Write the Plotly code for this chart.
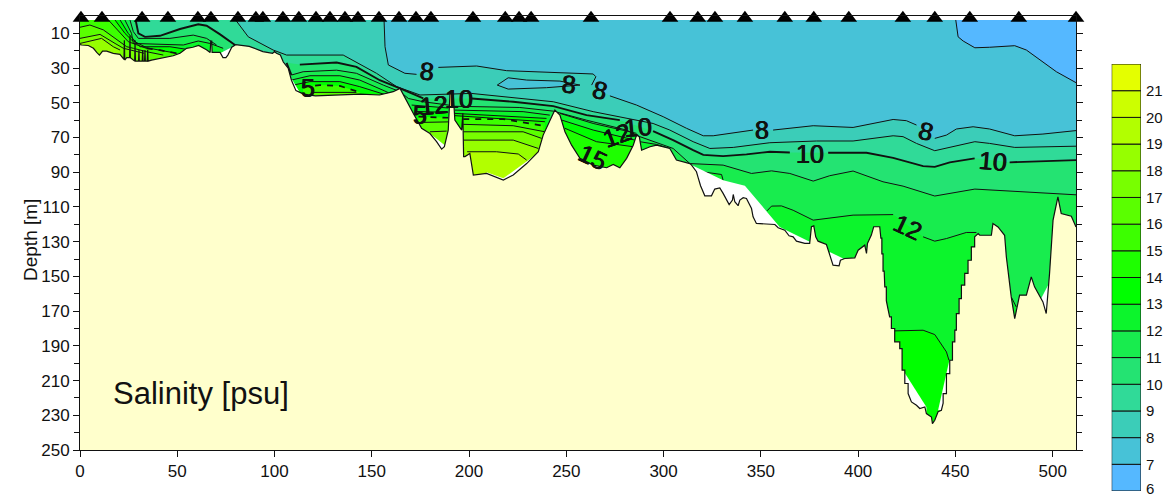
import plotly.graph_objects as go

W, H = 1169, 497
LEVELS = [6, 7, 8, 9, 10, 11, 12, 13, 14, 15, 16, 17, 18, 19, 20, 21]
COLORS = ["#55B8FF", "#47C2D7", "#3BCDB8", "#30DA98", "#24E372", "#18EC4E", "#0CF52C", "#00FF00",
          "#1EFF00", "#3CFF00", "#5AFF00", "#78FF00", "#96FF00", "#B2FF00", "#CCFF00", "#E4FF00"]
SURFACE = 2.3
STATIONS = [0.5, 11.3, 31.9, 45.2, 60.6, 67.3, 81.2, 90.4, 94, 104.3, 112.5, 121.3, 128.5, 136.2, 142.9, 153.7, 164,
            172.7, 180.4, 202, 218.6, 225.7, 231.9, 262.7, 303.3, 317.6, 326.4, 341.8, 362.3, 377.2, 395.2, 423,
            439.4, 457.4, 482.6, 512]

BOTTOM = [
    (0, 16.5), (0.9, 16.7), (4.3, 17), (6.9, 18.6), (8.6, 21), (10, 22.5), (11.6, 20.2), (13.7, 20.2), (17.1, 21.5), (20.5, 22.1),
    (22.6, 25), (22.8, 14), (23, 25.4), (24, 24), (25.5, 24), (25.7, 11.4), (25.9, 24), (27, 25), (28.1, 26), (28.3, 14), (28.5, 26),
    (30.1, 26), (30.3, 19.6), (30.5, 26), (32, 26), (32.2, 19.6), (32.4, 26), (33.2, 26), (33.4, 19.6), (33.6, 26),
    (34.6, 26), (34.8, 19.6), (35, 26), (36.8, 25.4), (41.1, 24.4), (47.9, 22.9), (51.4, 21.5), (54.8, 18.6), (58, 18), (61, 17),
    (65, 19.5), (66.9, 21), (67.2, 14.5), (67.7, 14.5), (67.9, 21), (72, 21), (73.5, 24), (75, 24), (76, 22.5), (78, 18), (80, 16.5),
    (87, 17.5), (94, 20.5), (99, 21.5), (100, 20.5), (101, 21.5), (103, 22.5), (104.5, 26.5), (107, 30), (108.7, 37), (111, 43),
    (115, 45), (121, 46), (132, 45.5), (144, 45), (154, 45.5), (161, 43.6), (164.5, 41.7), (168, 49.4), (171.3, 56), (175.6, 64.7),
    (179.9, 67.7), (183.3, 72.4), (185.9, 76.7), (187.3, 75.3), (189.3, 65.7), (190.2, 44.6), (191.9, 45.5), (192.7, 60), (194.5, 62.8),
    (196.2, 65.7), (196.8, 56), (197.2, 81), (197.9, 81), (200.4, 79.2), (202.2, 91.6), (209, 90.7), (217.6, 94.5), (222.7, 91.6),
    (229.6, 85), (235.6, 78.2), (238.1, 68.6), (241.6, 60), (244.1, 54.2), (246.7, 57.1), (249.3, 66.7), (252.7, 74.4), (257, 82),
    (263.8, 85.9), (270.7, 87.4), (274.1, 85.5), (277.5, 87.4), (281, 82), (284.4, 74.4), (286.1, 68.6), (287.5, 69.5), (288.7, 77.3),
    (293, 75.3), (296.4, 74.4), (303.2, 76.3), (306.6, 83), (313.5, 85), (314.4, 85.9), (316.9, 89.7), (317.8, 93.2), (319, 97.8),
    (321.2, 103.6), (324.6, 103.6), (326.3, 99.7), (328.9, 99), (330.6, 102.2), (332.7, 106), (333.7, 108.6), (335.4, 106), (335.8, 102.8),
    (336.6, 107), (338.3, 109.3), (339.2, 106), (340.9, 104.7), (342.6, 105.1), (345.2, 110.9), (346, 115.7), (347.7, 119.5), (357.2, 120.1),
    (358.9, 122), (362.3, 123.4), (364.5, 126.6), (366.6, 127.2), (368.3, 129.7), (372.6, 131), (375.1, 131), (376, 121.4), (377.2, 120.9),
    (378.2, 127.2), (379.4, 129.7), (383.7, 131.6), (385.4, 137.8), (387.1, 143.5), (390.2, 143.9), (390.9, 140.7), (393.1, 139.7),
    (398.3, 139.3), (400, 134.9), (403.4, 132), (404.3, 136.8), (404.8, 131), (406.8, 126.2), (408, 121.4), (411.1, 121.4),
    (411.7, 128), (412.2, 128), (412.2, 137), (412.8, 137), (412.8, 147), (413.4, 147), (413.7, 156), (414.5, 156), (414.5, 164),
    (415.4, 169), (416.2, 173.3), (417.1, 173.3), (417.1, 180), (418.8, 180), (418.8, 187.7), (421.4, 187.7), (421.4, 191.6),
    (422.6, 191.6), (422.6, 204), (424, 204), (424, 211.7), (425.7, 211.7), (425.7, 217.5), (427.4, 222.3), (430, 224.2), (431.7, 226.1),
    (434.3, 225.2), (435.1, 229), (437.7, 231), (438.2, 234.8), (439.4, 232.9), (441.1, 228), (442.8, 227.1), (443.7, 223), (443.7, 217.5),
    (445.4, 217.5), (445.4, 206), (447.1, 206), (447.1, 198.3), (448.5, 198.3), (448.5, 187.7), (449.7, 187.7), (449.7, 181), (450.5, 181),
    (450.5, 171.4), (451.9, 171.4), (451.9, 162.8), (453.1, 162.8), (453.1, 155), (454.8, 155), (454.8, 148.3), (456.5, 148.3),
    (456.5, 140.7), (458.2, 140.7), (458.2, 133), (459.9, 133), (459.9, 127.2), (461.7, 125.3), (462.5, 126.3), (468.5, 126.3), (469.3, 119.5),
    (471.9, 121.5), (475.3, 126.3), (476.2, 138.8), (478.7, 161.8), (480.5, 174.3), (483, 160.8), (486.5, 160.8), (489, 150.3), (490.7, 156),
    (495, 164.7), (496.7, 171.4), (498.4, 148.4), (500.2, 117.6), (502.7, 104.2), (504.4, 113.8), (509.6, 115.3), (512, 121.5),
]
BOTTOM_X = [p[0] for p in BOTTOM]
BOTTOM_D = [p[1] for p in BOTTOM]

S7_X = [450.2, 451.4, 454, 460, 467.6, 480.5, 486.5, 495, 501.9, 512]
S7_D = [2.3, 12, 14.4, 18.3, 18, 17.1, 19.6, 26.3, 32.1, 38.4]

S8_X = [156.3, 156.8, 158.5, 167, 173, None, 184.2, 203.9, 219.3, 263.8, 265.2, 263, None, 272.4, 286.1, 299.8, 311.8,
        320.4, 325.5, 346, None, 356.3, 376.9, 397.4, 418, 424.8, 430, None, 439.4, 445.4, 450.5, 459.1, 467.6, 480.5, 495, 512]
S8_D = [2.3, 17.7, 28.2, 33, 33.6, None, 29.6, 28.8, 31.5, 33.4, 35, 39.8, None, 46, 51.3, 58, 64.7,
        69, 69, 65.7, None, 65.7, 63.2, 64.2, 59.6, 60.3, 62.8, None, 70.5, 68.6, 65.1, 63.8, 65.1, 69, 68, 66]
ISLAND_X = [214.5, 220.1, 229.6, 246.7, 257, 239.8, 220.1, 214.5]
ISLAND_D = [39.8, 35.6, 36.9, 37.5, 39.8, 41.3, 42.1, 39.8]

S9_X = [80, 86.5, 99.3, 106.2, 135.3, 152.4, 162.8, 174.8, 201.3, 243.3, 263.8, 277.5, 286.1, 294.6, 303.2, 315.2, 323.8,
        335.8, 354.6, 378.6, 397.4, 418, 423.1, 430, 439.4, 448.8, 460, 467.6, 480.5, 512]
S9_D = [2.3, 12, 19.6, 22.5, 22.5, 33, 40.7, 45.5, 44.6, 49.4, 55.1, 58, 60, 61.9, 65.7, 72.4, 76.3,
        75.7, 73, 72, 72, 69, 69.5, 73.4, 77.6, 75.3, 72.4, 73.4, 75.7, 75]

S10A_X = [28.6, 30, 33.4, 41.1, 51.4, 60.8, 65.1, 72, 79.7]
S10A_D = [2.3, 10, 12, 11.4, 7.5, 4.8, 5.6, 10.6, 16.7]
S10B_X = [108.7, 106.2, None, 113, 131.9, 142.1, 154.1, 164.5, 176.5, None, 201.3, 222.7, 243.3, 260.4, 277.5, None, 294.6, 304.9,
          315.2, 320.4, 330.6, 342.6, 354.6, 364.9, None, 384.6, 404.3, 418, 433.4, 439.4, 447.1, 459.9, None, 477.9, 512]
S10B_D = [34, 27, None, 28, 26.8, 29.3, 37, 41.7, 47.5, None, 47.5, 49.4, 51.9, 57.1, 60, None, 66.3, 71.5,
          77.3, 80, 80.7, 79.7, 78.2, 78.6, None, 78.8, 78.8, 81.7, 86.5, 86.9, 84.3, 82, None, 84.3, 83]

S11A_X = [25.7, 27.4, 30, 46.2, 58.2, 65.1, 70.2]
S11A_D = [2.3, 9, 12.9, 12.9, 11, 12.9, 16.7]
S11B_X = [108.7, 114.7, 131.9, 142.1, 155.9, 164.5, 168.8, 176.5, 189.3, 192.7, 226.1, 243.3, 260.4, 280.9, 287.8, 304.9, 313.5,
          330.6, 345.2, 355.5, 364.9, 376.9, 385.4, 397.4, 412.8, 423.1, 439.4, 460, 512]
S11B_D = [34, 32.1, 31.2, 33, 39.8, 43.6, 47.5, 49.4, 51.3, 52, 52.7, 54.8, 60, 65.7, 69.5, 76.3, 85,
          85.9, 90.7, 89.2, 90.7, 95.1, 92, 89.3, 95.5, 98, 103.7, 99.7, 103]

S12A_X = [23.1, 26.5, 27.4, 53.1, 60.8, 66.8, 73.6]
S12A_D = [2.3, 10, 15.8, 16.7, 14.4, 15.8, 18.6]
S12B_X = [108.7, 118.2, 133.6, 143.8, 156.7, 160]
S12B_D = [36.9, 34.4, 34.4, 36.9, 43.2, 45]
S12C_X = [170.5, 189.3]
S12C_D = [51.3, 53]
S12D_X = [192.7, 227.8, 241.5]
S12D_D = [54.2, 55.1, 57.1]
S12E_X = [246.7, 263.8, 286.1]
S12E_D = [56.1, 61.9, 67.6]
S12F_X = [287.8, 296.4, 303.2]
S12F_D = [72.4, 74, 76.3]
S12G_X = [320.4, 322.9, 329.8, 330.6]
S12G_D = [89.8, 90.3, 91.3, 94.6]
S12H_X = [353.2, 355.5, 360.6, 366.6, 376.9, 397.4, 418, None, 433.4, 439.4, 445.4, 455.6, 460.8]
S12H_D = [112.2, 109.5, 109.4, 111.9, 117.6, 114.7, 114.4, None, 127.2, 129.7, 128.2, 124.7, 124.7]
S12I_X = [478.7, 481.3]
S12I_D = [161.8, 167.6]

S13A_X = [20.6, 24.8, 30.8, 46.2, 54.8]
S13A_D = [2.3, 10, 17.7, 17.7, 19.2]
S13B_X = [109.6, 118.2, 133.6, 143.8, 157.5]
S13B_D = [39.8, 37.8, 37.8, 40.7, 45.5]
S13C_X = [173, 189]
S13C_D = [55, 55.5]
S13D_X = [192.7, 239.8]
S13D_D = [56.1, 59]
S13E_X = [247.5, 263.8, 285.2]
S13E_D = [59.9, 65.7, 71.5]
S13F_X = [418, 433.4, 439.4, 445.4, 446.7]
S13F_D = [181.4, 181, 183.5, 193.5, 198.3]

S14A_X = [18, 23.1, 26.5, 34.3, 49.7]
S14A_D = [2.3, 10, 13.8, 18.3, 21.5]
S14D_X = [192.7, 239]
S14D_D = [57.4, 60.9]
S14E_X = [249.3, 265.5, 284.4]
S14E_D = [64.7, 72.4, 75.3]

S15A_X = [14.6, 20.6, 24.8, 34.3]
S15A_D = [2.3, 10, 14.8, 18.7]
S15A2_X = [34.3, 41.1, 49.7, 55]
S15A2_D = [18.7, 19.7, 21.5, 23]
S15B_X = [114.7, 123.3, 133.6, 140.5, 144]
S15B_D = [40.7, 39.8, 40.3, 42.7, 44]
S15C_X = [174, 189.3]
S15C_D = [58, 58.6]
S15D_X = [197, 217.6, 238.1]
S15D_D = [59.4, 59.4, 63.2]

S16A_X = [0, 5.1, 12, 19.7, 24, 27.4, 34.3, 42.8]
S16A_D = [6.5, 5.2, 8, 14.4, 17.7, 18.6, 20.6, 22.5]
S16B_X = [119.9, 142.1]
S16B_D = [44, 44]
S16C_X = [175.6, 189.3]
S16C_D = [61.3, 61]
S16D_X = [197, 222.7, 239]
S16D_D = [62.4, 63.2, 66.7]

S17A_X = [0, 10.3, 18, 22.3, 33]
S17A_D = [12.9, 10.6, 15.8, 18.6, 21.5]
S17C_X = [179.9, 188.5]
S17C_D = [66.7, 66.3]
S17D_X = [197, 227.8, 237.3]
S17D_D = [66.7, 66.7, 70.5]

S18A_X = [0, 11.1, 17.1, 20.6]
S18A_D = [15.8, 12.9, 17.7, 19.6]
S18D_X = [197, 222.7, 235.6]
S18D_D = [71.5, 71.5, 76.3]

S19D_X = [199, 214.1, 225.3, 229.6]
S19D_D = [78.2, 78.2, 79.5, 83]

WHITE_A_X = [314.4, 330.6, 341.8, 359.7, 375.1, 375.1, 314.4]
WHITE_A_D = [85.9, 94.6, 97.8, 121.5, 130.1, 140, 140]
WHITE_B_X = [385.4, 392.3, 392.3, 385.4]
WHITE_B_D = [135.9, 139.7, 150, 150]
WHITE_C_X = [423.1, 435.1, 435.1, 423.1]
WHITE_C_D = [204, 225.2, 240, 240]
WHITE_D_X = [446.7, 441.1, 455, 455]
WHITE_D_D = [199.3, 227.1, 227, 199]
WHITE_E_X = [493.6, 498.1, 498.1, 493.6]
WHITE_E_D = [163.7, 154.1, 180, 180]
WHITE_F_X = [72, 78, 78, 72]
WHITE_F_D = [21.5, 18, 30, 30]
WHITE_G_X = [108.7, 113, 113, 108.7]
WHITE_G_D = [36, 44, 50, 50]
WHITE_H_X = [178, 187.5, 187.5, 178]
WHITE_H_D = [66, 74.5, 80, 80]
WHITE_I_X = [209, 217.6, 230.6, 236, 236, 209]
WHITE_I_D = [90, 93.5, 83, 78, 100, 100]

LABEL_TEXT = ["8", "8", "8", "12", "10", "5", "5", "12", "10", "15", "8", "10", "8", "10", "12"]
LABEL_X = [178.3, 251.3, 267.2, 181.9, 194.8, 174.7, 117.2, 276, 286.7, 263.6, 350.5, 375.1, 434.7, 469.2, 425.5]
LABEL_D = [31.7, 39.2, 42.7, 51.3, 47.8, 57, 41.5, 68.6, 64, 81.3, 65.7, 79.5, 66.3, 83.6, 121.6]
LABEL_ANGLE = [5, 5, 15, -5, 0, 0, 0, -20, -5, 25, 0, 0, 15, 5, 25]

X_TICKS = [0, 50, 100, 150, 200, 250, 300, 350, 400, 450, 500]
Y_TICKS = list(range(10, 251, 20))

BANDS = [
    (8, S8_X, S8_D, True), (9, S9_X, S9_D, True),
    (10, S10A_X, S10A_D, True), (10, S10B_X, S10B_D, False),
    (11, S11A_X, S11A_D, True), (11, S11B_X, S11B_D, False),
    (12, S12A_X, S12A_D, True), (12, S12B_X, S12B_D, False), (12, S12C_X, S12C_D, False),
    (12, S12D_X, S12D_D, False), (12, S12E_X, S12E_D, False), (12, S12F_X, S12F_D, False),
    (12, S12G_X, S12G_D, False), (12, S12H_X, S12H_D, False), (12, S12I_X, S12I_D, False),
    (13, S13A_X, S13A_D, True), (13, S13B_X, S13B_D, False), (13, S13C_X, S13C_D, False),
    (13, S13D_X, S13D_D, False), (13, S13E_X, S13E_D, False), (13, S13F_X, S13F_D, False),
    (14, S14A_X, S14A_D, True), (14, S14D_X, S14D_D, False), (14, S14E_X, S14E_D, False),
    (15, S15A_X + S15A2_X[1:], S15A_D + S15A2_D[1:], True), (15, S15B_X, S15B_D, False),
    (15, S15C_X, S15C_D, False), (15, S15D_X, S15D_D, False),
    (16, S16A_X, S16A_D, False), (16, S16B_X, S16B_D, False), (16, S16C_X, S16C_D, False), (16, S16D_X, S16D_D, False),
    (17, S17A_X, S17A_D, False), (17, S17C_X, S17C_D, False), (17, S17D_X, S17D_D, False),
    (18, S18A_X, S18A_D, False), (18, S18D_X, S18D_D, False),
    (19, S19D_X, S19D_D, False),
]
THIN, BOLD, DASHW = 1.0, 1.9, 1.7
DASH = "6px,6px"
LINES = [
    (S7_X, S7_D, THIN, "solid"), (S8_X, S8_D, THIN, "solid"), (ISLAND_X, ISLAND_D, THIN, "solid"), (S9_X, S9_D, THIN, "solid"),
    (S10A_X, S10A_D, BOLD, "solid"), (S10B_X, S10B_D, BOLD, "solid"),
    (S11A_X, S11A_D, THIN, "solid"), (S11B_X, S11B_D, THIN, "solid"),
    (S12A_X, S12A_D, THIN, "solid"), (S12B_X, S12B_D, THIN, "solid"), (S12C_X, S12C_D, THIN, "solid"),
    (S12D_X, S12D_D, THIN, "solid"), (S12E_X, S12E_D, THIN, "solid"), (S12F_X, S12F_D, THIN, "solid"),
    (S12G_X, S12G_D, THIN, "solid"), (S12H_X, S12H_D, THIN, "solid"), (S12I_X, S12I_D, THIN, "solid"),
    (S13A_X, S13A_D, THIN, "solid"), (S13B_X, S13B_D, THIN, "solid"), (S13C_X, S13C_D, THIN, "solid"),
    (S13D_X, S13D_D, THIN, "solid"), (S13E_X, S13E_D, THIN, "solid"), (S13F_X, S13F_D, THIN, "solid"),
    (S14A_X, S14A_D, THIN, "solid"), (S14D_X, S14D_D, THIN, "solid"), (S14E_X, S14E_D, THIN, "solid"),
    (S15A_X, S15A_D, THIN, "solid"), (S15A2_X, S15A2_D, DASHW, DASH), (S15B_X, S15B_D, DASHW, DASH),
    (S15C_X, S15C_D, DASHW, DASH), (S15D_X, S15D_D, DASHW, DASH),
    (S16A_X, S16A_D, THIN, "solid"), (S16B_X, S16B_D, THIN, "solid"), (S16C_X, S16C_D, THIN, "solid"), (S16D_X, S16D_D, THIN, "solid"),
    (S17A_X, S17A_D, THIN, "solid"), (S17C_X, S17C_D, THIN, "solid"), (S17D_X, S17D_D, THIN, "solid"),
    (S18A_X, S18A_D, THIN, "solid"), (S18D_X, S18D_D, THIN, "solid"), (S19D_X, S19D_D, THIN, "solid"),
]
WHITES = [(WHITE_A_X, WHITE_A_D), (WHITE_B_X, WHITE_B_D), (WHITE_C_X, WHITE_C_D), (WHITE_D_X, WHITE_D_D),
          (WHITE_E_X, WHITE_E_D), (WHITE_F_X, WHITE_F_D), (WHITE_G_X, WHITE_G_D), (WHITE_H_X, WHITE_H_D), (WHITE_I_X, WHITE_I_D)]

FONT = "Liberation Sans, Arial, sans-serif"
NARROW = "Liberation Sans Narrow, Liberation Sans, Arial, sans-serif"
LAND = "#FFFFCC"
BOX_DEPTH = 250
INK = "#111111"


def col(level):
    return COLORS[LEVELS.index(level)]


def poly(x, y, color):
    return go.Scatter(x=x, y=y, mode="lines", fill="toself", fillcolor=color, line=dict(width=0, color=color),
                      hoverinfo="skip", showlegend=False)


def clean(seq):
    return [v for v in seq if v is not None]


fig = go.Figure()
fig.add_trace(poly([0, 512, 512, 0], [SURFACE, SURFACE, BOX_DEPTH, BOX_DEPTH], col(7)))
fig.add_trace(poly(S7_X + [512], S7_D + [SURFACE], col(6)))
for lev, xs, ds, to_left in BANDS:
    px, pd = clean(xs), clean(ds)
    left = 0 if to_left else px[0]
    px2 = px + [px[-1], left] + ([left] if to_left else [])
    pd2 = pd + [BOX_DEPTH, BOX_DEPTH] + ([SURFACE] if to_left else [])
    fig.add_trace(poly(px2, pd2, col(lev)))
    if lev == 8:
        fig.add_trace(poly(ISLAND_X, ISLAND_D, col(7)))
for xs, ds, w, dash in LINES:
    fig.add_trace(go.Scatter(x=xs, y=ds, mode="lines", line=dict(color=INK, width=w, dash=dash),
                             hoverinfo="skip", showlegend=False))
for xs, ds in WHITES:
    fig.add_trace(poly(xs, ds, "#FFFFFF"))
fig.add_trace(poly(BOTTOM_X + [512, 0], BOTTOM_D + [BOX_DEPTH, BOX_DEPTH], LAND))
fig.add_trace(go.Scatter(x=BOTTOM_X, y=BOTTOM_D, mode="lines", line=dict(color=INK, width=1.2),
                         hoverinfo="skip", showlegend=False))
fig.add_trace(go.Scatter(x=STATIONS, y=[1.2] * len(STATIONS), mode="markers", cliponaxis=False,
                         marker=dict(symbol="triangle-up", size=14.5, color="black"), hoverinfo="skip", showlegend=False))

fig.add_trace(go.Bar(x=[0] * len(LEVELS), y=[1] * len(LEVELS), base=LEVELS, width=1, xaxis="x2", yaxis="y2",
                     marker=dict(color=COLORS, line=dict(color=INK, width=1)), hoverinfo="skip", showlegend=False))

for t, x, d, a in zip(LABEL_TEXT, LABEL_X, LABEL_D, LABEL_ANGLE):
    fig.add_annotation(x=x, y=d, text=t, textangle=a, showarrow=False,
                       font=dict(family=NARROW, size=25, color=INK, shadow="0.5px 0 0 #111111, -0.5px 0 0 #111111"))
fig.add_annotation(x=62.2, y=217.3, text="Salinity [psu]", showarrow=False, font=dict(family=FONT, size=31, color=INK))
fig.add_annotation(xref="paper", yref="paper", x=18 / W, y=(H - 240.5) / H, text="Depth [m]", textangle=-90, showarrow=False,
                   font=dict(family=FONT, size=19, color=INK))
fig.add_annotation(xref="paper", yref="paper", x=1146 / W, y=(H - 496.5) / H, xanchor="left", yanchor="bottom", text=str(LEVELS[0]),
                   showarrow=False, borderpad=0, borderwidth=0, font=dict(family=FONT, size=15, color=INK))

fig.update_layout(
    width=W, height=H, autosize=False, margin=dict(l=0, r=0, t=0, b=0, autoexpand=False), paper_bgcolor="white", plot_bgcolor="white",
    barmode="overlay", showlegend=False, font=dict(family=FONT, size=17, color=INK),
    xaxis=dict(domain=[80 / W, 1076 / W], range=[0, 512], tickvals=X_TICKS, ticks="outside", ticklen=6, tickcolor=INK,
               showgrid=False, zeroline=False, showline=True, linecolor=INK, linewidth=1, mirror=True, anchor="y",
               tickfont=dict(size=17), automargin=False),
    yaxis=dict(domain=[(H - 450) / H, (H - 16) / H], range=[250, 0], tickvals=Y_TICKS, ticks="outside", ticklen=6, tickcolor=INK,
               minor=dict(tickvals=list(range(20, 250, 20)), ticks="outside", ticklen=5, tickcolor=INK),
               showgrid=False, zeroline=False, showline=True, linecolor=INK, linewidth=1, mirror="allticks", anchor="x",
               tickfont=dict(size=17), automargin=False),
    xaxis2=dict(domain=[1111.7 / W, 1141 / W], range=[-0.5, 0.5], showticklabels=False, ticks="", showgrid=False, zeroline=False,
                anchor="y2", showline=False, automargin=False),
    yaxis2=dict(domain=[(H - 491) / H, (H - 64) / H], range=[6, 22], side="right", tickvals=LEVELS[1:], ticks="", showgrid=False,
                zeroline=False, anchor="x2", showline=False, tickfont=dict(size=15), ticklabelstandoff=4, automargin=False),
)
fig.write_html("out.html", post_script="document.body.style.margin='0';", config={"displayModeBar": False})
